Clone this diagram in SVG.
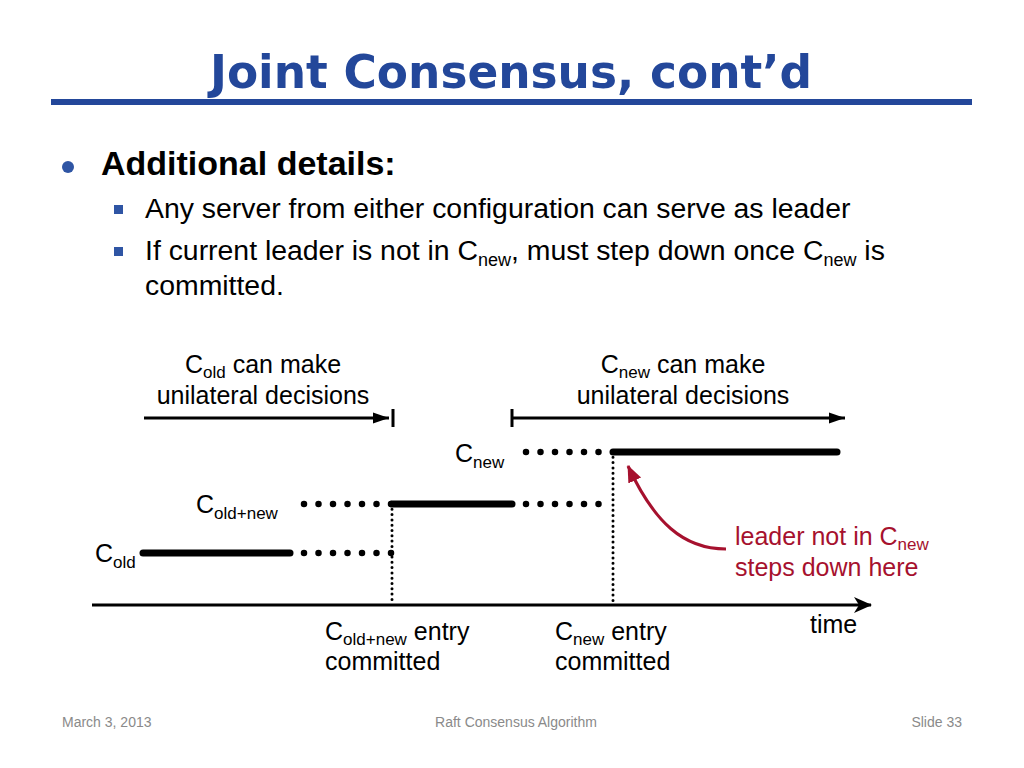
<svg xmlns="http://www.w3.org/2000/svg" width="1024" height="768" viewBox="0 0 1024 768">
<defs>
<style>
.t{font-family:"Liberation Sans",Arial,sans-serif;fill:#000}
.lbl{font-family:"Liberation Sans",Arial,sans-serif;font-size:25px;fill:#000}
.red{font-family:"Liberation Sans",Arial,sans-serif;font-size:25px;fill:#a6112e}
.foot{font-family:"Liberation Sans",Arial,sans-serif;font-size:14px;fill:#8a8a8a}
.thick{stroke:#000;stroke-width:7;stroke-linecap:round;fill:none}
.bigdots{stroke:#000;stroke-width:6.5;stroke-linecap:round;stroke-dasharray:0 14.5;fill:none}
.vdots{stroke:#000;stroke-width:3;stroke-linecap:round;stroke-dasharray:0 5.3;fill:none}
.arr{stroke:#000;stroke-width:3;fill:none}
</style>
<marker id="ah" markerUnits="userSpaceOnUse" markerWidth="18" markerHeight="14" refX="16" refY="7" orient="auto">
<path d="M0,1.5 L16,7 L0,12.5 Z" fill="#000"/>
</marker>
<marker id="ta" markerUnits="userSpaceOnUse" markerWidth="20" markerHeight="20" refX="17" refY="10" orient="auto">
<path d="M0,2 L18,10 L0,18 L5,10 Z" fill="#000"/>
</marker>
<marker id="rh" markerUnits="userSpaceOnUse" markerWidth="20" markerHeight="16" refX="16" refY="8" orient="auto">
<path d="M0,1 L17,8 L0,15 Z" fill="#a6112e"/>
</marker>
</defs>
<rect width="1024" height="768" fill="#fff"/>

<g id="title">
<text x="511" y="88" text-anchor="middle" font-family="'DejaVu Sans Condensed','DejaVu Sans',Verdana,sans-serif" font-weight="bold" font-size="46" fill="#23479a" textLength="602" lengthAdjust="spacingAndGlyphs">Joint Consensus, cont’d</text>
<rect x="51" y="99" width="921" height="6" fill="#23479a"/>
</g>

<g id="bullets">
<circle cx="68" cy="167" r="6" fill="#2f55a4"/>
<text class="t" x="101" y="175" font-size="34" font-weight="bold">Additional details:</text>
<rect x="114" y="205" width="9" height="9" fill="#2f55a4"/>
<text class="t" x="145" y="218" font-size="28.4">Any server from either configuration can serve as leader</text>
<rect x="114" y="247" width="9" height="9" fill="#2f55a4"/>
<text class="t" x="145" y="260" font-size="28.4">If current leader is not in C<tspan font-size="18" dy="6">new</tspan><tspan dy="-6">, must step down once C</tspan><tspan font-size="18" dy="6">new</tspan><tspan dy="-6"> is</tspan></text>
<text class="t" x="145" y="295" font-size="28.4">committed.</text>
</g>

<g id="label-cold-unilateral">
<text class="lbl" x="263" y="373" text-anchor="middle">C<tspan font-size="17" dy="5">old</tspan><tspan dy="-5"> can make</tspan></text>
<text class="lbl" x="263" y="404" text-anchor="middle">unilateral decisions</text>
</g>
<g id="label-cnew-unilateral">
<text class="lbl" x="683" y="373" text-anchor="middle">C<tspan font-size="17" dy="5">new</tspan><tspan dy="-5"> can make</tspan></text>
<text class="lbl" x="683" y="404" text-anchor="middle">unilateral decisions</text>
</g>

<g id="label-cnew"><text class="lbl" x="455" y="462">C<tspan font-size="17" dy="6">new</tspan></text></g>
<g id="label-coldnew"><text class="lbl" x="196" y="513">C<tspan font-size="17" dy="6">old+new</tspan></text></g>
<g id="label-cold"><text class="lbl" x="95" y="562">C<tspan font-size="17" dy="6">old</tspan></text></g>

<g id="label-entry1">
<text class="lbl" x="325" y="640">C<tspan font-size="17" dy="5">old+new</tspan><tspan dy="-5"> entry</tspan></text>
<text class="lbl" x="325" y="670">committed</text>
</g>
<g id="label-entry2">
<text class="lbl" x="555" y="640">C<tspan font-size="17" dy="5">new</tspan><tspan dy="-5"> entry</tspan></text>
<text class="lbl" x="555" y="670">committed</text>
</g>
<g id="label-time"><text class="lbl" x="810" y="633">time</text></g>

<g id="label-leader">
<text class="red" x="735" y="545">leader not in C<tspan font-size="17" dy="5">new</tspan></text>
<text class="red" x="735" y="576">steps down here</text>
</g>

<g id="connectors">
<line class="arr" x1="144" y1="418" x2="389" y2="418" marker-end="url(#ah)"/>
<line class="arr" x1="393" y1="409" x2="393" y2="427"/>
<line class="arr" x1="512" y1="409" x2="512" y2="427"/>
<line class="arr" x1="512" y1="418" x2="845" y2="418" marker-end="url(#ah)"/>

<line class="thick" x1="143" y1="553" x2="290" y2="553"/>
<line class="bigdots" x1="304" y1="553" x2="392" y2="553"/>

<line class="bigdots" x1="304" y1="504" x2="392" y2="504"/>
<line class="thick" x1="392" y1="504" x2="512" y2="504"/>
<line class="bigdots" x1="526" y1="504" x2="613" y2="504"/>

<line class="bigdots" x1="526" y1="452" x2="613" y2="452"/>
<line class="thick" x1="613" y1="452" x2="837" y2="452"/>

<line class="vdots" x1="392" y1="504" x2="392" y2="604"/>
<line class="vdots" x1="613" y1="452" x2="613" y2="604"/>

<line class="arr" x1="92" y1="605" x2="871" y2="605" marker-end="url(#ta)"/>

<path d="M726,549 C683,549 654,522 628,466" stroke="#a6112e" stroke-width="3" fill="none" marker-end="url(#rh)"/>
</g>

<g id="footer">
<text class="foot" x="62" y="727">March 3, 2013</text>
<text class="foot" x="516" y="727" text-anchor="middle">Raft Consensus Algorithm</text>
<text class="foot" x="962" y="727" text-anchor="end">Slide 33</text>
</g>
</svg>
